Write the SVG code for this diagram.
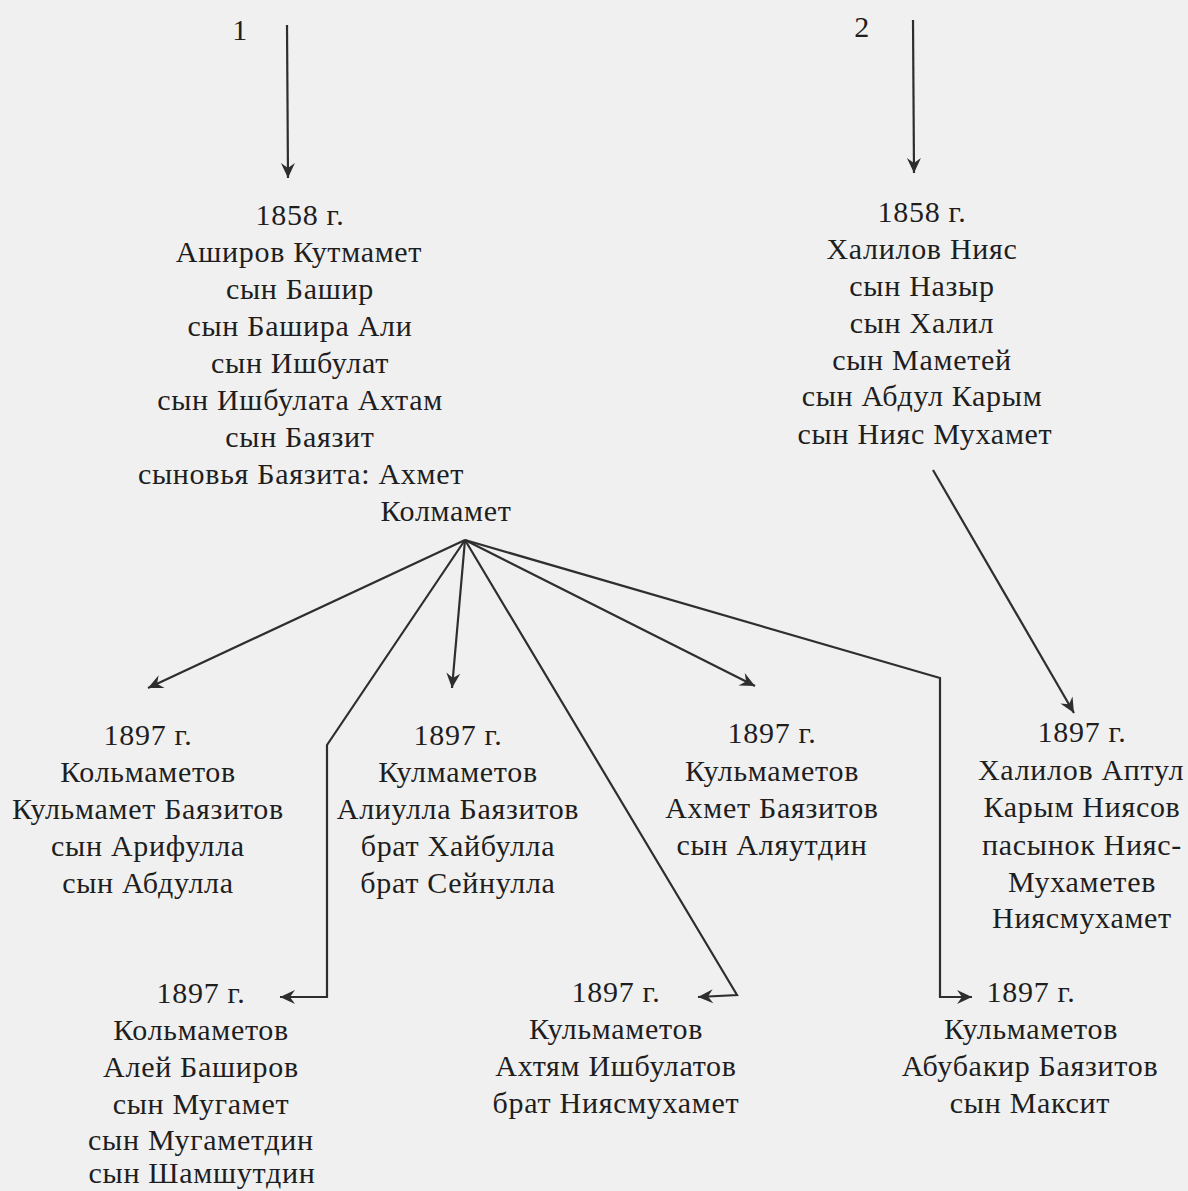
<svg xmlns="http://www.w3.org/2000/svg" width="1188" height="1191" viewBox="0 0 1188 1191">
<defs>
<style>
text{font-family:"Liberation Serif","Times New Roman",serif;font-size:30px;letter-spacing:0.7px;fill:#1e1e1e;text-anchor:middle}
.c{fill:none;stroke:#2e2e2e;stroke-width:2.2}
</style>
<marker id="ah" viewBox="-16 -8 18 16" refX="0" refY="0" markerWidth="18" markerHeight="16" markerUnits="userSpaceOnUse" orient="auto">
<path d="M0,0 L-15,-7 L-10,0 L-15,7 Z" fill="#2e2e2e"/>
</marker>
</defs>
<rect width="1188" height="1191" fill="#f0f0f0"/>
<g id="label1"><text x="240" y="40">1</text></g>
<g id="label2"><text x="862" y="37">2</text></g>
<g id="n1">
<text x="300" y="225">1858 г.</text>
<text x="299" y="262">Аширов Кутмамет</text>
<text x="300" y="299">сын Башир</text>
<text x="300" y="336">сын Башира Али</text>
<text x="300" y="373">сын Ишбулат</text>
<text x="300" y="410">сын Ишбулата Ахтам</text>
<text x="300" y="447">сын Баязит</text>
<text x="301" y="484">сыновья Баязита: Ахмет</text>
<text x="446" y="521">Колмамет</text>
</g>
<g id="n2">
<text x="922" y="222">1858 г.</text>
<text x="922" y="259">Халилов Нияс</text>
<text x="922" y="296">сын Назыр</text>
<text x="922" y="333">сын Халил</text>
<text x="922" y="370">сын Маметей</text>
<text x="922" y="406">сын Абдул Карым</text>
<text x="925" y="444">сын Нияс Мухамет</text>
</g>
<g id="nA">
<text x="148" y="745">1897 г.</text>
<text x="148" y="782">Кольмаметов</text>
<text x="148" y="819">Кульмамет Баязитов</text>
<text x="148" y="856">сын Арифулла</text>
<text x="148" y="893">сын Абдулла</text>
</g>
<g id="nB">
<text x="458" y="745">1897 г.</text>
<text x="458" y="782">Кулмаметов</text>
<text x="458" y="819">Алиулла Баязитов</text>
<text x="458" y="856">брат Хайбулла</text>
<text x="458" y="893">брат Сейнулла</text>
</g>
<g id="nC">
<text x="772" y="743">1897 г.</text>
<text x="772" y="781">Кульмаметов</text>
<text x="772" y="818">Ахмет Баязитов</text>
<text x="772" y="855">сын Аляутдин</text>
</g>
<g id="nD">
<text x="1082" y="742">1897 г.</text>
<text x="978" y="780" style="text-anchor:start">Халилов Аптул</text>
<text x="1082" y="817">Карым Ниясов</text>
<text x="1082" y="855">пасынок Нияс-</text>
<text x="1082" y="892">Мухаметев</text>
<text x="1082" y="928">Ниясмухамет</text>
</g>
<g id="nE">
<text x="201" y="1003">1897 г.</text>
<text x="201" y="1040">Кольмаметов</text>
<text x="201" y="1077">Алей Баширов</text>
<text x="201" y="1114">сын Мугамет</text>
<text x="201" y="1150">сын Мугаметдин</text>
<text x="202" y="1183">сын Шамшутдин</text>
</g>
<g id="nF">
<text x="616" y="1002">1897 г.</text>
<text x="616" y="1039">Кульмаметов</text>
<text x="616" y="1076">Ахтям Ишбулатов</text>
<text x="616" y="1113">брат Ниясмухамет</text>
</g>
<g id="nG">
<text x="1031" y="1002">1897 г.</text>
<text x="1031" y="1039">Кульмаметов</text>
<text x="1030" y="1076">Абубакир Баязитов</text>
<text x="1030" y="1113">сын Максит</text>
</g>
<g id="connectors">
<path class="c" d="M287,25 L288,178" marker-end="url(#ah)"/>
<path class="c" d="M913,20 L914,173" marker-end="url(#ah)"/>
<path class="c" d="M465,540 L148,688" marker-end="url(#ah)"/>
<path class="c" d="M465,540 L327,745 L327,997 L280,997" marker-end="url(#ah)"/>
<path class="c" d="M465,540 L452,688" marker-end="url(#ah)"/>
<path class="c" d="M465,540 L737,995 L698,997" marker-end="url(#ah)"/>
<path class="c" d="M465,540 L755,686" marker-end="url(#ah)"/>
<path class="c" d="M465,540 L940,678 L940,997 L972,997" marker-end="url(#ah)"/>
<path class="c" d="M933,470 L1074,713" marker-end="url(#ah)"/>
</g>
</svg>
